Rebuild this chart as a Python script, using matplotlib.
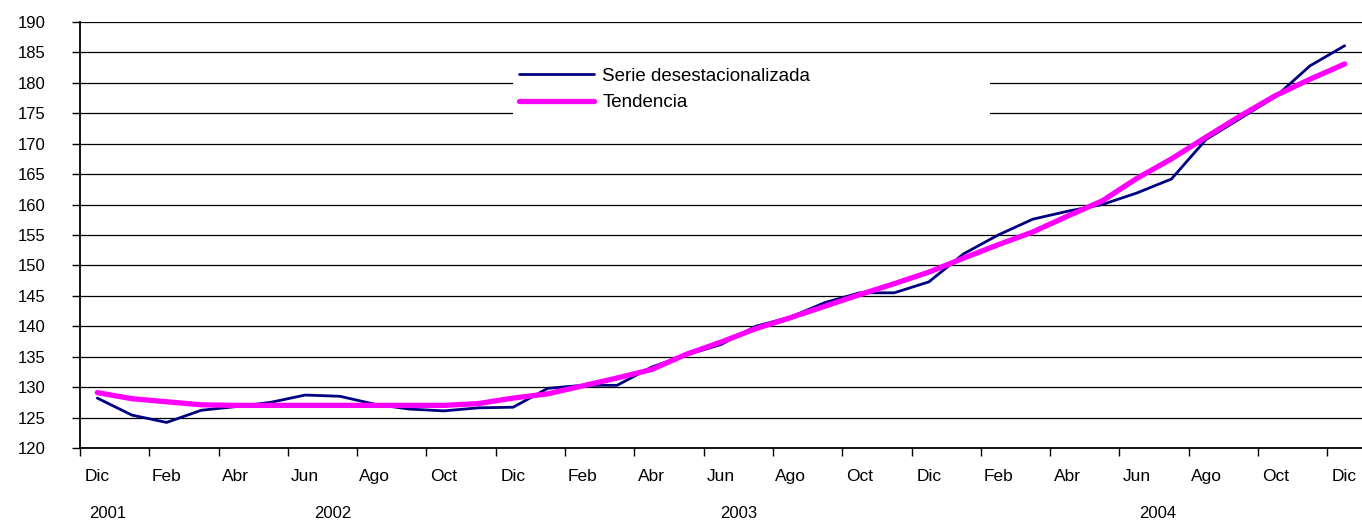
import matplotlib
matplotlib.use("Agg")
import matplotlib.pyplot as plt
import matplotlib.transforms as mtransforms

plt.rcParams['font.family'] = ['Liberation Sans', 'DejaVu Sans']

# -- data: monthly, Dic 2001 .. Dic 2004 -------------------------------------
month_names = ["Dic", "Feb", "Abr", "Jun", "Ago", "Oct"]
years = ["2001", "2002", "2003", "2004"]
year_pos = [0.3, 6.8, 18.5, 30.6]

serie = [128.2, 125.4, 124.2, 126.2, 126.8, 127.5, 128.7, 128.5, 127.2, 126.4,
         126.1, 126.6, 126.7, 129.8, 130.3, 130.3, 133.3, 135.3, 137.0, 140.0,
         141.5, 143.9, 145.5, 145.5, 147.3, 151.9, 155.0, 157.6, 158.9, 160.0,
         161.9, 164.2, 170.7, 174.2, 177.7, 182.8, 186.1]
tendencia = [129.1, 128.1, 127.6, 127.1, 127.0, 127.0, 127.0, 127.0, 127.0, 127.0,
             127.0, 127.3, 128.2, 128.9, 130.2, 131.5, 132.9, 135.4, 137.4, 139.6,
             141.4, 143.3, 145.2, 147.0, 148.9, 151.2, 153.4, 155.5, 158.1, 160.6,
             164.3, 167.5, 171.1, 174.6, 177.9, 180.6, 183.1]

x = list(range(len(serie)))

fig = plt.figure(figsize=(13.62, 5.21), dpi=100)
ax = fig.add_axes([80 / 1362, 1 - 448 / 521, 1 - 80 / 1362, 426 / 521])

ax.plot(x, serie, color='#000080', lw=2.0, label='Serie desestacionalizada',
        zorder=3, solid_capstyle='round')
ax.plot(x, tendencia, color='#FF00FF', lw=3.8, label='Tendencia',
        zorder=4, solid_capstyle='round')

# ── axes ──────────────────────────────────────────────────────────────────────
ax.set_xlim(-0.5, 36.5)
ax.set_ylim(120, 190)
ax.set_yticks(range(120, 191, 5))
ax.yaxis.grid(True, color='black', lw=0.9)
ax.set_axisbelow(True)
for s in ['top', 'right']:
    ax.spines[s].set_visible(False)
for s in ['left', 'bottom']:
    ax.spines[s].set_linewidth(1.3)

ax.tick_params(axis='y', length=6, width=1, pad=19, labelsize=12)

# tick marks between categories, labels on every second month
ax.set_xticks([k - 0.5 for k in range(0, 37, 2)])
ax.set_xticklabels([])
ax.tick_params(axis='x', which='major', length=6, width=1)
ax.set_xticks(list(range(0, 37, 2)), minor=True)
ax.set_xticklabels([month_names[i % 6] for i in range(19)], minor=True)
ax.tick_params(axis='x', which='minor', length=0, pad=15, labelsize=12.5)

trans = mtransforms.blended_transform_factory(ax.transData, ax.transAxes)
for yr, xp in zip(years, year_pos):
    ax.text(xp, -0.153, yr, transform=trans, ha='center', va='center',
            fontsize=12)

# ── legend ────────────────────────────────────────────────────────────────────
leg = ax.legend(loc='upper left', bbox_to_anchor=(0.338, 0.758, 0.372, 0.148),
                mode='expand', borderaxespad=0, frameon=True, fancybox=False,
                facecolor='white', edgecolor='white', framealpha=1,
                fontsize=13.5, handlelength=4.0, handletextpad=0.45,
                labelspacing=0.5, borderpad=0.3)
leg.get_frame().set_linewidth(0)

fig.savefig('out.png', dpi=100, facecolor='white')
